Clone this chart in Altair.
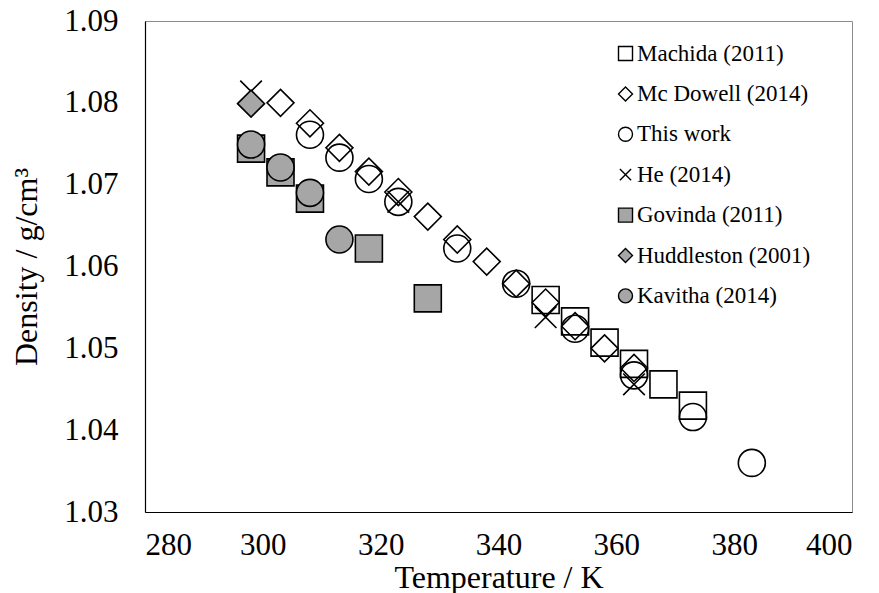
import altair as alt
import pandas as pd

# Density of the ionic liquid vs. temperature, several literature sources
machida_T = [348, 353, 358, 363, 368, 373]
machida_d = [1.0559, 1.0533, 1.0507, 1.0481, 1.0456, 1.0430]

mcdowell_T = [303, 308, 313, 318, 323, 328, 333, 338, 343, 348, 353, 358, 363]
mcdowell_d = [1.0800, 1.0775, 1.0745, 1.0716, 1.0691, 1.0661, 1.0633,
              1.0606, 1.0579, 1.0556, 1.0527, 1.0500, 1.0476]

thiswork_T = [308, 313, 318, 323, 333, 343, 353, 363, 373, 383]
thiswork_d = [1.0761, 1.0733, 1.0707, 1.0679, 1.0622, 1.0579, 1.0524,
              1.0467, 1.0416, 1.0360]

he_T = [298, 323, 348, 363]
he_d = [1.0814, 1.0679, 1.0538, 1.0456]

govinda_T = [298, 303, 308, 318, 328]
govinda_d = [1.0744, 1.0715, 1.0683, 1.0622, 1.0561]

huddleston_T = [298]
huddleston_d = [1.0799]

kavitha_T = [298, 303, 308, 313]
kavitha_d = [1.0749, 1.0721, 1.0690, 1.0633]

series_names = ["Machida (2011)", "Mc Dowell (2014)", "This work", "He (2014)",
                "Govinda (2011)", "Huddleston (2001)", "Kavitha (2014)"]
series_T = [machida_T, mcdowell_T, thiswork_T, he_T, govinda_T, huddleston_T, kavitha_T]
series_d = [machida_d, mcdowell_d, thiswork_d, he_d, govinda_d, huddleston_d, kavitha_d]

x_ticks = [280, 300, 320, 340, 360, 380, 400]
y_ticks = [1.03, 1.04, 1.05, 1.06, 1.07, 1.08, 1.09]

rows = []
for order, (name, ts, ds) in enumerate(zip(series_names, series_T, series_d)):
    for t, d in zip(ts, ds):
        rows.append({"series": name, "order": order, "T": t, "density": d})
df = pd.DataFrame(rows)

# diagonal cross, a little smaller than the other symbols
x_mark = "M-0.8,-0.8L0.8,0.8M0.8,-0.8L-0.8,0.8"
shapes = ["square", "diamond", "circle", x_mark, "square", "diamond", "circle"]
fills = ["transparent"] * 4 + ["#a6a6a6"] * 3
strokes = ["black"] * 7

FONT = "Liberation Serif"

chart = alt.Chart(df).mark_point(
    strokeWidth=1.6, opacity=1, size=729
).encode(
    x=alt.X("T:Q", scale=alt.Scale(domain=[280, 400], nice=False),
            axis=alt.Axis(values=x_ticks, title="Temperature / K",
                          labelPadding=18, titlePadding=2)),
    y=alt.Y("density:Q", scale=alt.Scale(domain=[1.03, 1.09], nice=False, zero=False),
            axis=alt.Axis(values=y_ticks, format=".2f", title="Density / g/cm³",
                          labelPadding=27, titlePadding=20)),
    shape=alt.Shape("series:N", legend=alt.Legend(title=None),
                    scale=alt.Scale(domain=series_names, range=shapes)),
    fill=alt.Fill("series:N", legend=alt.Legend(title=None),
                  scale=alt.Scale(domain=series_names, range=fills)),
    stroke=alt.Stroke("series:N", legend=alt.Legend(title=None),
                      scale=alt.Scale(domain=series_names, range=strokes)),
    order=alt.Order("order:Q"),
).properties(
    width=707, height=491,
    autosize=alt.AutoSizeParams(type="none"),
    padding={"left": 145, "top": 21, "right": 27, "bottom": 81},
).configure_view(
    stroke="#8c8c8c", strokeWidth=1
).configure_axis(
    grid=False, ticks=False, domainColor="black", domainWidth=1.2,
    labelFont=FONT, labelFontSize=31, labelColor="black",
    titleFont=FONT, titleFontSize=32, titleColor="black", titleFontWeight="normal",
).configure_legend(
    orient="none", legendX=469, legendY=21, padding=0,
    labelFont=FONT, labelFontSize=23, labelColor="black", labelOffset=0,
    symbolSize=196, symbolStrokeWidth=1.4,
    rowPadding=16.4, labelLimit=300,
)

chart.save("out.html", embed_options={"renderer": "svg", "actions": False})
